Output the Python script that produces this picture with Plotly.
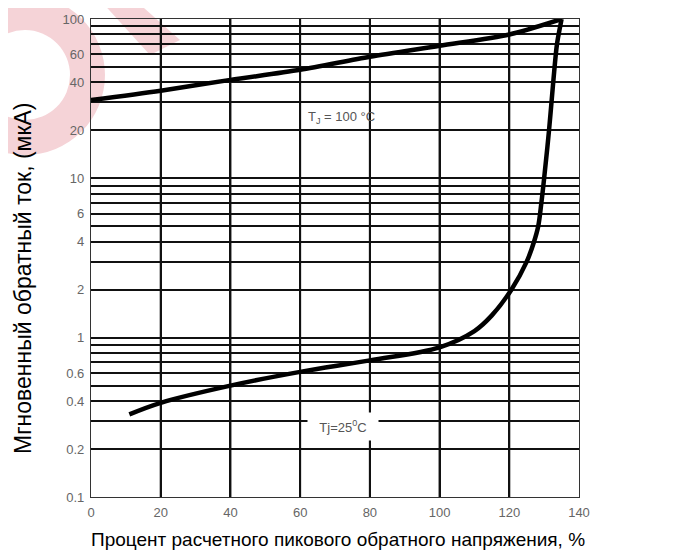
import plotly.graph_objects as go

# ---- data ----
x_t100 = [0, 20, 40, 60, 80, 100, 120, 135]
y_t100 = [31, 35.5, 41.5, 48, 58, 68, 80, 100]

x_t25 = [11, 20, 40, 60, 80, 100, 110, 115, 120.6, 125, 127.1, 128.3, 129.2, 130, 131.4, 132.6, 133.7, 134.6, 135]
y_t25 = [0.33, 0.39, 0.5, 0.61, 0.72, 0.87, 1.1, 1.38, 2.0, 3.0, 4.0, 5.0, 7, 10, 20, 40, 70, 90, 100]

x_ticks = [0, 20, 40, 60, 80, 100, 120, 140]
y_ticks = [0.1, 0.2, 0.4, 0.6, 1, 2, 4, 6, 10, 20, 40, 60, 100]
y_ticklabels = ["0.1", "0.2", "0.4", "0.6", "1", "2", "4", "6", "10", "20", "40", "60", "100"]
y_minor = [v * m for v in (0.1, 1, 10) for m in range(2, 10)]

x_title = "Процент расчетного пикового обратного напряжения, %"
y_title = "Мгновенный обратный ток, (мкА)"
label_100 = "T<sub>J</sub> = 100 °C"
label_25 = "Tj=25<sup>0</sup>C"

# the page body has an 8 px margin: size the figure so it ends at the window edge
OFF = 8
W, H = 677 - OFF, 556 - OFF
L, T = 91 - OFF, 19 - OFF
R, B = 677 - 579, 556 - 497
pw, ph = W - L - R, H - T - B


def px(xp):
    return (xp - OFF - L) / pw


def py(yp):
    return (H - B - (yp - OFF)) / ph


fig = go.Figure()
fig.add_trace(go.Scatter(x=x_t100, y=y_t100, mode="lines",
                         line=dict(color="black", width=4.5, shape="spline", smoothing=0.8),
                         showlegend=False, hoverinfo="skip"))
fig.add_trace(go.Scatter(x=x_t25, y=y_t25, mode="lines",
                         line=dict(color="black", width=4.5, shape="spline", smoothing=1.0),
                         showlegend=False, hoverinfo="skip"))

pink = "#f5d3d7"
shapes = [
    # watermark ring
    dict(type="circle", xref="paper", yref="paper",
         x0=px(25 - 80), x1=px(25 + 80), y0=py(75 + 80), y1=py(75 - 80),
         fillcolor=pink, line=dict(width=0), layer="below"),
    dict(type="circle", xref="paper", yref="paper",
         x0=px(25 - 45), x1=px(25 + 45), y0=py(75 + 45), y1=py(75 - 45),
         fillcolor="white", line=dict(width=0), layer="below"),
    # watermark diagonal band
    dict(type="path", xref="paper", yref="paper",
         path=f"M {px(100)} {py(0)} L {px(135)} {py(0)} L {px(180)} {py(40)} L {px(150)} {py(55)} Z",
         fillcolor=pink, line=dict(width=0), layer="below"),
]
# vertical grid lines at the x tick values
for xv in x_ticks[1:-1]:
    shapes.append(dict(type="line", xref="x", yref="paper", x0=xv, x1=xv, y0=0, y1=1,
                       line=dict(color="#111", width=2), layer="below"))

annotations = [
    dict(text=label_100, xref="paper", yref="paper", x=px(306), y=py(117),
         xanchor="left", yanchor="middle", showarrow=False,
         font=dict(family="Liberation Sans, Arial", size=13, color="#555")),
    dict(text=label_25, xref="paper", yref="paper", x=px(343), y=py(426),
         xanchor="center", yanchor="middle", showarrow=False, bgcolor="white",
         width=70, height=27, borderpad=0,
         font=dict(family="Liberation Sans, Arial", size=13, color="#555")),
    dict(text=x_title, xref="paper", yref="paper", x=px(338), y=py(539),
         xanchor="center", yanchor="middle", showarrow=False,
         font=dict(family="Liberation Sans, Arial", size=19, color="black")),
    dict(text=y_title, xref="paper", yref="paper", x=px(23), y=py(279),
         xanchor="center", yanchor="middle", showarrow=False, textangle=-90,
         font=dict(family="Liberation Sans, Arial", size=23, color="black")),
]

fig.update_layout(
    width=W, height=H,
    margin=dict(l=L, r=R, t=T, b=B, autoexpand=False),
    paper_bgcolor="white",
    plot_bgcolor="rgba(0,0,0,0)",
    shapes=shapes,
    annotations=annotations,
    xaxis=dict(range=[0, 140], tickvals=x_ticks, ticktext=[str(v) for v in x_ticks],
               showgrid=True, gridcolor="#111", gridwidth=2, zeroline=False,
               showline=True, mirror=True, linecolor="#333", linewidth=1.2,
               ticks="outside", ticklen=3, tickcolor="rgba(0,0,0,0)",
               tickfont=dict(family="Liberation Sans, Arial", size=13, color="#666")),
    yaxis=dict(type="log", range=[-1, 2], tickvals=y_ticks, ticktext=y_ticklabels,
               showgrid=True, gridcolor="#111", gridwidth=2, zeroline=False,
               showline=True, mirror=True, linecolor="#333", linewidth=1.2,
               ticks="outside", ticklen=3, tickcolor="rgba(0,0,0,0)",
               tickfont=dict(family="Liberation Sans, Arial", size=13, color="#666"),
               minor=dict(tickvals=y_minor, showgrid=True, gridcolor="#111", gridwidth=2, ticks="")),
)

fig.write_html("out.html")
